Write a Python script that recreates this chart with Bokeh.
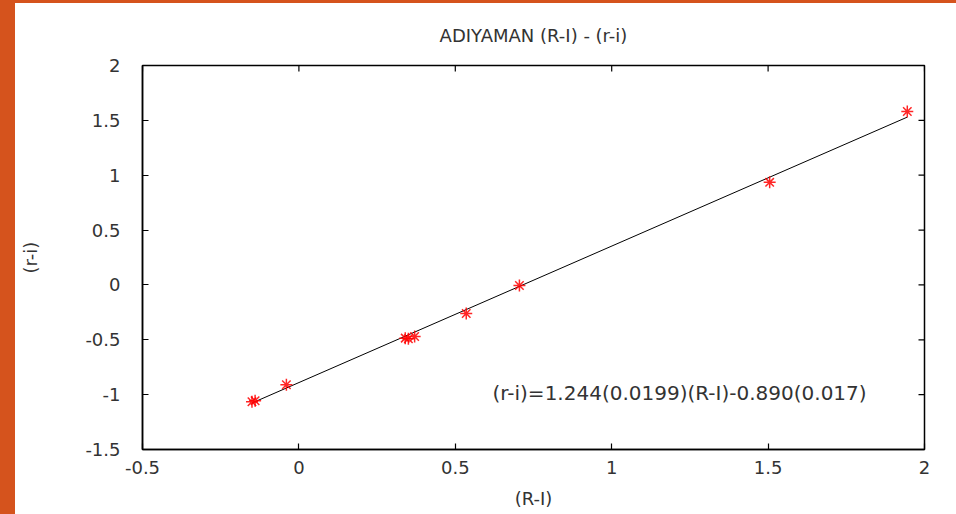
from bokeh.plotting import figure
from bokeh.models import Label, Spacer, ColumnDataSource, CustomJSTickFormatter
from bokeh.layouts import row, column
from bokeh.embed import file_html
from bokeh.resources import INLINE
import numpy as np

# data
RI = [-0.15, -0.14, -0.04, 0.34, 0.35, 0.37, 0.535, 0.705, 1.505, 1.945]
ri = [-1.065, -1.055, -0.91, -0.485, -0.49, -0.47, -0.26, -0.005, 0.935, 1.58]
slope = 1.244
intercept = -0.890
fit_text = "(r-i)=1.244(0.0199)(R-I)-0.890(0.017)"
title_text = "ADIYAMAN (R-I) - (r-i)"
x_ticks = [-0.5, 0, 0.5, 1, 1.5, 2]
x_tick_labels = ["-0.5", "0", "0.5", "1", "1.5", "2"]
y_ticks = [-1.5, -1, -0.5, 0, 0.5, 1, 1.5, 2]
y_tick_labels = ["-1.5", "-1", "-0.5", "0", "0.5", "1", "1.5", "2"]
x_lim = (-0.5, 2)
y_lim = (-1.5, 2)

FONT = "DejaVu Sans"
TXT = "#333333"
ORANGE = "#D5531D"

p = figure(width=941, height=511, x_range=x_lim, y_range=y_lim,
           output_backend="svg", toolbar_location=None,
           min_border_left=127, min_border_right=32, min_border_top=61,
           min_border_bottom=65, background_fill_color="white",
           border_fill_color="white", outline_line_color="black",
           outline_line_width=1.5)
p.xgrid.visible = False
p.ygrid.visible = False

p.title.text = title_text
p.title.align = "center"
p.title.text_font = FONT
p.title.text_font_size = "18px"
p.title.text_font_style = "normal"
p.title.text_color = TXT
p.title.offset = 0
p.title.standoff = 39

fmt_code = "const i = tvals.indexOf(tick); return i >= 0 ? tlabels[i] : String(tick);"
p.xaxis[0].formatter = CustomJSTickFormatter(args=dict(tvals=x_ticks, tlabels=x_tick_labels), code=fmt_code)
p.yaxis[0].formatter = CustomJSTickFormatter(args=dict(tvals=y_ticks, tlabels=y_tick_labels), code=fmt_code)

for ax in (p.xaxis[0], p.yaxis[0]):
    ax.major_tick_in = 6
    ax.major_tick_out = 0
    ax.minor_tick_line_color = None
    ax.axis_line_color = "black"
    ax.axis_line_width = 1.5
    ax.major_tick_line_width = 1.2
    ax.major_label_text_font = FONT
    ax.major_label_text_font_size = "18px"
    ax.major_label_text_color = TXT
    ax.axis_label_text_font = FONT
    ax.axis_label_text_font_size = "18px"
    ax.axis_label_text_font_style = "normal"
    ax.axis_label_text_color = TXT

p.xaxis[0].ticker = x_ticks
p.yaxis[0].ticker = y_ticks
p.xaxis[0].axis_label = "(R-I)"
p.yaxis[0].axis_label = "(r-i)"
p.xaxis[0].major_label_standoff = 11
p.xaxis[0].axis_label_standoff = 11
p.yaxis[0].major_label_standoff = 22
p.yaxis[0].axis_label_standoff = 41

# mirrored inward ticks on top and right edges
p.ray(x=x_ticks, y=[y_lim[1]] * len(x_ticks), length=6, length_units="screen",
      angle=-np.pi / 2, line_color="black", line_width=1.2)
p.ray(x=[x_lim[1]] * len(y_ticks), y=y_ticks, length=6, length_units="screen",
      angle=np.pi, line_color="black", line_width=1.2)

# fit line over data range
xf = np.array([min(RI), max(RI)])
yf = slope * xf + intercept
p.line(xf, yf, line_color="black", line_width=1)

src = ColumnDataSource(dict(x=RI, y=ri))
p.scatter("x", "y", source=src, marker="asterisk", size=12,
          line_color="#ff0000", line_width=1.5, line_alpha=0.85)

p.add_layout(Label(x=1.217, y=-0.985, text=fit_text, text_align="center",
                   text_baseline="middle", text_font=FONT,
                   text_font_size="20px", text_color=TXT))

left_strip = Spacer(width=15, height=514, styles={"background-color": ORANGE})
top_strip = Spacer(width=941, height=3, styles={"background-color": ORANGE})
layout = row(left_strip, column(top_strip, p, spacing=0), spacing=0)

open("out.html", "w").write(file_html(layout, INLINE))
